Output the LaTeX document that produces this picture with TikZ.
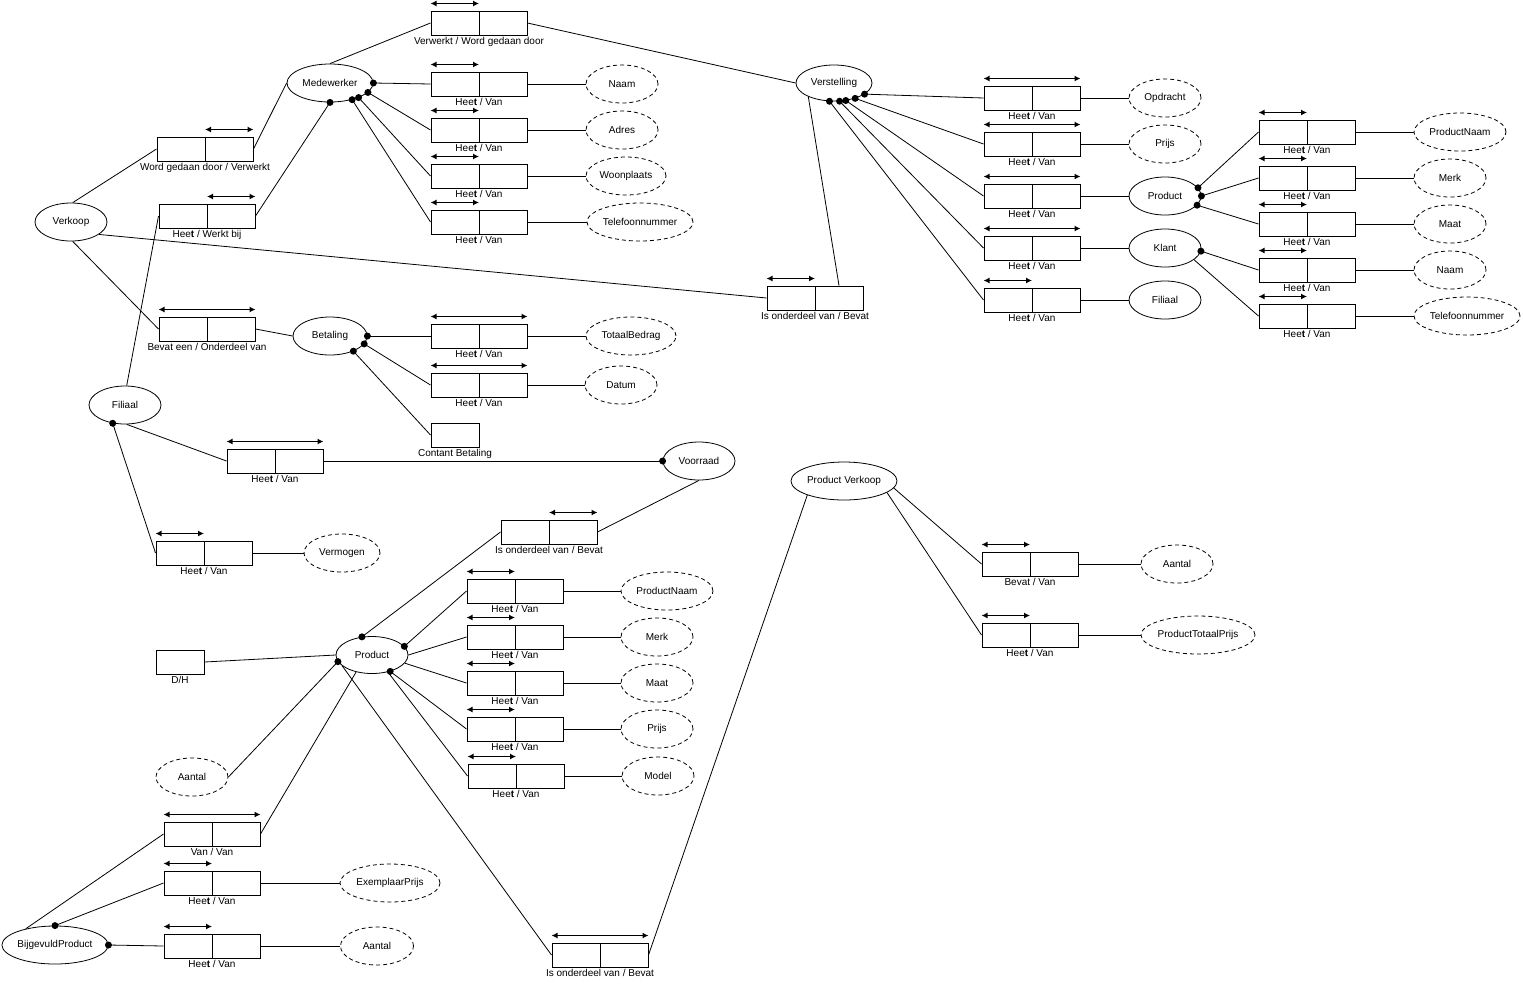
\documentclass[tikz,border=0pt]{standalone}
\usepackage{fontspec}
\setmainfont{Liberation Sans}
\usetikzlibrary{shapes.geometric,arrows.meta}

\newcommand\heet{Hee\textbf{t} / Van}

\tikzset{
  rol/.style={draw, line width=1pt, minimum width=96pt, minimum height=24pt, inner sep=0pt,
    path picture={\draw[line width=1pt] (path picture bounding box.north) -- (path picture bounding box.south);}},
  cel/.style={draw, line width=1pt, minimum width=48pt, minimum height=24pt, inner sep=0pt},
  obj/.style={ellipse, draw, minimum height=38pt, inner sep=0pt},
  waarde/.style={obj, dash pattern=on 4pt off 3pt},
  lbl/.style={inner sep=1pt},
  uniek/.style={{Latex[length=6pt,width=6pt]}-{Latex[length=6pt,width=6pt]}, line width=1.2pt},
}

\begin{document}
\begin{tikzpicture}[x=1pt, y=-1pt, line width=0.8pt, font=\fontsize{10}{12}\selectfont]
  \useasboundingbox (0,0) rectangle (1523,986);

  % Medewerker
  \node[obj, minimum width=86pt] (medew) at (330,83) {Medewerker};
  \node[rol, label={[lbl]below:Verwerkt / Word gedaan door}] (rverw) at (479,23) {};
  \node[rol, label={[lbl]below:\heet}] (rm1) at (479,84) {};
  \node[rol, label={[lbl]below:\heet}] (rm2) at (479,130) {};
  \node[rol, label={[lbl]below:\heet}] (rm3) at (479,176) {};
  \node[rol, label={[lbl]below:\heet}] (rm4) at (479,222) {};
  \node[waarde, minimum width=72pt] (naam) at (622,84) {Naam};
  \node[waarde, minimum width=72pt] (adres) at (622,130) {Adres};
  \node[waarde, minimum width=80pt] (woonplaats) at (626,176) {Woonplaats};
  \node[waarde, minimum width=106pt] (tel) at (640,222) {Telefoonnummer};

  % Verkoop
  \node[obj, minimum width=72pt] (verkoop) at (71,222) {Verkoop};
  \node[rol, label={[lbl]below:Word gedaan door / Verwerkt}] (rwgd) at (205,149) {};
  \node[rol, label={[lbl]below:Hee\textbf{t} / Werkt bij}] (rwerkt) at (207,216) {};
  \node[rol, label={[lbl]below:Is onderdeel van / Bevat}] (rdeel) at (815,298) {};
  \node[rol, label={[lbl]below:Bevat een / Onderdeel van}] (rbevat) at (207,329) {};

  % Verstelling
  \node[obj, minimum width=76pt, minimum height=36pt] (verst) at (834,83) {Verstelling};
  \node[rol, label={[lbl]below:\heet}] (rv1) at (1032,98) {};
  \node[rol, label={[lbl]below:\heet}] (rv2) at (1032,144) {};
  \node[rol, label={[lbl]below:\heet}] (rv3) at (1032,196) {};
  \node[rol, label={[lbl]below:\heet}] (rv4) at (1032,248) {};
  \node[rol, label={[lbl]below:\heet}] (rv5) at (1032,300) {};
  \node[waarde, minimum width=72pt] (opdracht) at (1165,98) {Opdracht};
  \node[waarde, minimum width=72pt] (vprijs) at (1165,144) {Prijs};
  \node[obj, minimum width=72pt] (vproduct) at (1165,196) {Product};
  \node[obj, minimum width=72pt] (klant) at (1165,248) {Klant};
  \node[obj, minimum width=72pt] (vfiliaal) at (1165,300) {Filiaal};
  \node[rol, label={[lbl]below:\heet}] (rp1) at (1307,132) {};
  \node[rol, label={[lbl]below:\heet}] (rp2) at (1307,178) {};
  \node[rol, label={[lbl]below:\heet}] (rp3) at (1307,224) {};
  \node[rol, label={[lbl]below:\heet}] (rk1) at (1307,270) {};
  \node[rol, label={[lbl]below:\heet}] (rk2) at (1307,316) {};
  \node[waarde, minimum width=92pt] (pnaam) at (1460,132) {ProductNaam};
  \node[waarde, minimum width=72pt] (merk) at (1450,178) {Merk};
  \node[waarde, minimum width=72pt] (maat) at (1450,224) {Maat};
  \node[waarde, minimum width=72pt] (knaam) at (1450,270) {Naam};
  \node[waarde, minimum width=106pt] (ktel) at (1467,316) {Telefoonnummer};

  % Betaling
  \node[obj, minimum width=74pt] (betaling) at (330,336) {Betaling};
  \node[rol, label={[lbl]below:\heet}] (rb1) at (479,336) {};
  \node[rol, label={[lbl]below:\heet}] (rb2) at (479,385) {};
  \node[cel, label={[lbl]below:Contant Betaling}] (contant) at (455,435) {};
  \node[waarde, minimum width=90pt] (totaal) at (631,336) {TotaalBedrag};
  \node[waarde, minimum width=72pt] (datum) at (621,385) {Datum};

  % Filiaal
  \node[obj, minimum width=72pt] (filiaal) at (125,405) {Filiaal};
  \node[rol, label={[lbl]below:\heet}] (rfil) at (275,461) {};
  \node[obj, minimum width=72pt] (voorraad) at (699,461) {Voorraad};
  \node[rol, label={[lbl]below:\heet}] (rverm) at (204,553) {};
  \node[waarde, minimum width=76pt] (vermogen) at (342,553) {Vermogen};

  % Product
  \node[rol, label={[lbl]below:Is onderdeel van / Bevat}] (rvoor) at (549,532) {};
  \node[obj, minimum width=72pt, minimum height=37pt] (product) at (372,655) {Product};
  \node[rol, label={[lbl]below:\heet}] (rl1) at (515,591) {};
  \node[rol, label={[lbl]below:\heet}] (rl2) at (515,637) {};
  \node[rol, label={[lbl]below:\heet}] (rl3) at (515,683) {};
  \node[rol, label={[lbl]below:\heet}] (rl4) at (515,729) {};
  \node[rol, label={[lbl]below:\heet}] (rl5) at (516,776) {};
  \node[waarde, minimum width=92pt] (lpnaam) at (667,591) {ProductNaam};
  \node[waarde, minimum width=72pt] (lmerk) at (657,637) {Merk};
  \node[waarde, minimum width=72pt] (lmaat) at (657,683) {Maat};
  \node[waarde, minimum width=72pt] (lprijs) at (657,729) {Prijs};
  \node[waarde, minimum width=72pt] (model) at (658,776) {Model};
  \node[cel, label={[lbl]below:D/H}] (dh) at (180,662) {};
  \node[waarde, minimum width=72pt] (aantal) at (192,777) {Aantal};

  % BijgevuldProduct
  \node[rol, label={[lbl]below:Van / Van}] (rvanvan) at (212,834) {};
  \node[rol, label={[lbl]below:\heet}] (rex) at (212,883) {};
  \node[rol, label={[lbl]below:\heet}] (raant) at (212,946) {};
  \node[waarde, minimum width=100pt] (exprijs) at (390,883) {ExemplaarPrijs};
  \node[waarde, minimum width=73pt] (baantal) at (377,946) {Aantal};
  \node[obj, minimum width=106pt] (bijgev) at (55,945) {BijgevuldProduct};
  \node[rol, label={[lbl]below:Is onderdeel van / Bevat}] (rpdeel) at (600,955) {};

  % Product Verkoop
  \node[obj, minimum width=106pt] (pverkoop) at (844,481) {Product Verkoop};
  \node[rol, label={[lbl]below:Bevat / Van}] (rpv1) at (1030,564) {};
  \node[rol, label={[lbl]below:\heet}] (rpv2) at (1030,635) {};
  \node[waarde, minimum width=72pt] (pvaantal) at (1177,564) {Aantal};
  \node[waarde, minimum width=113pt] (ptprijs) at (1198,635) {ProductTotaalPrijs};

  % uniciteit
  \foreach \r in {rverw,rm1,rm2,rm3,rm4,rdeel,rv5,rp1,rp2,rp3,rk1,rk2,rverm,rl1,rl2,rl3,rl4,rl5,rex,raant,rpv1,rpv2}
    \draw[uniek] ([yshift=7pt]\r.north west) -- ([yshift=7pt]\r.north);
  \foreach \r in {rv1,rv2,rv3,rv4,rbevat,rb1,rb2,rfil,rvanvan,rpdeel}
    \draw[uniek] ([yshift=7pt]\r.north west) -- ([yshift=7pt]\r.north east);
  \foreach \r in {rwgd,rwerkt,rvoor}
    \draw[uniek] ([yshift=7pt]\r.north) -- ([yshift=7pt]\r.north east);

  % verbindingen
  \foreach \a/\b in {verkoop.85/rwgd.west, rwgd.east/medew.180, medew.90/rverw.west,
      rverw.east/verst.180, verkoop.-24/rdeel.west, verkoop.-85/rbevat.west,
      rbevat.east/betaling.180, filiaal.85/rwerkt.west, filiaal.-85/rfil.west,
      voorraad.-90/rvoor.east, product.0/rl2.west, product.-14/rl3.west,
      product.-47/rl5.west, dh.east/product.180, product.-160/rpdeel.west,
      product.-133/rvanvan.east, rvanvan.west/bijgev.151, rpdeel.east/pverkoop.-159,
      pverkoop.-8/rpv1.west, pverkoop.-15/rpv2.west, klant.-22/rk2.west}
    \draw (\a) -- (\b);
  \draw (verst.-152) -- ([xshift=24pt]rdeel.north);

  % verplichte rollen
  \foreach \a/\b in {medew.0/rm1.west, medew.-14/rm2.west, medew.-27/rm3.west,
      medew.-37/rm4.west, medew.-90/rwerkt.east, verst.-20/rv1.west,
      verst.-36/rv2.west, verst.-56/rv3.west, verst.-73/rv4.west,
      verst.-104/rv5.west, vproduct.14/rp1.west, vproduct.0/rp2.west,
      vproduct.-16/rp3.west, klant.-5/rk1.west, betaling.0/rb1.west,
      betaling.-13/rb2.west, betaling.-33/contant.west, filiaal.-124/rverm.west,
      voorraad.180/rfil.east, product.119/rvoor.west, product.15/rl1.west,
      product.-42/rl4.west, product.-169/aantal.east, bijgev.90/rex.west,
      bijgev.0/raant.west}{
    \draw (\a) -- (\b);
    \fill (\a) circle (3.5pt);
  }

  % waarden
  \foreach \a/\b in {rm1/naam, rm2/adres, rm3/woonplaats, rm4/tel, rv1/opdracht,
      rv2/vprijs, rv3/vproduct, rv4/klant, rv5/vfiliaal, rp1/pnaam, rp2/merk,
      rp3/maat, rk1/knaam, rk2/ktel, rb1/totaal, rb2/datum, rverm/vermogen,
      rl1/lpnaam, rl2/lmerk, rl3/lmaat, rl4/lprijs, rl5/model, rex/exprijs,
      raant/baantal, rpv1/pvaantal, rpv2/ptprijs}
    \draw (\a.east) -- (\b.west);
\end{tikzpicture}
\end{document}
